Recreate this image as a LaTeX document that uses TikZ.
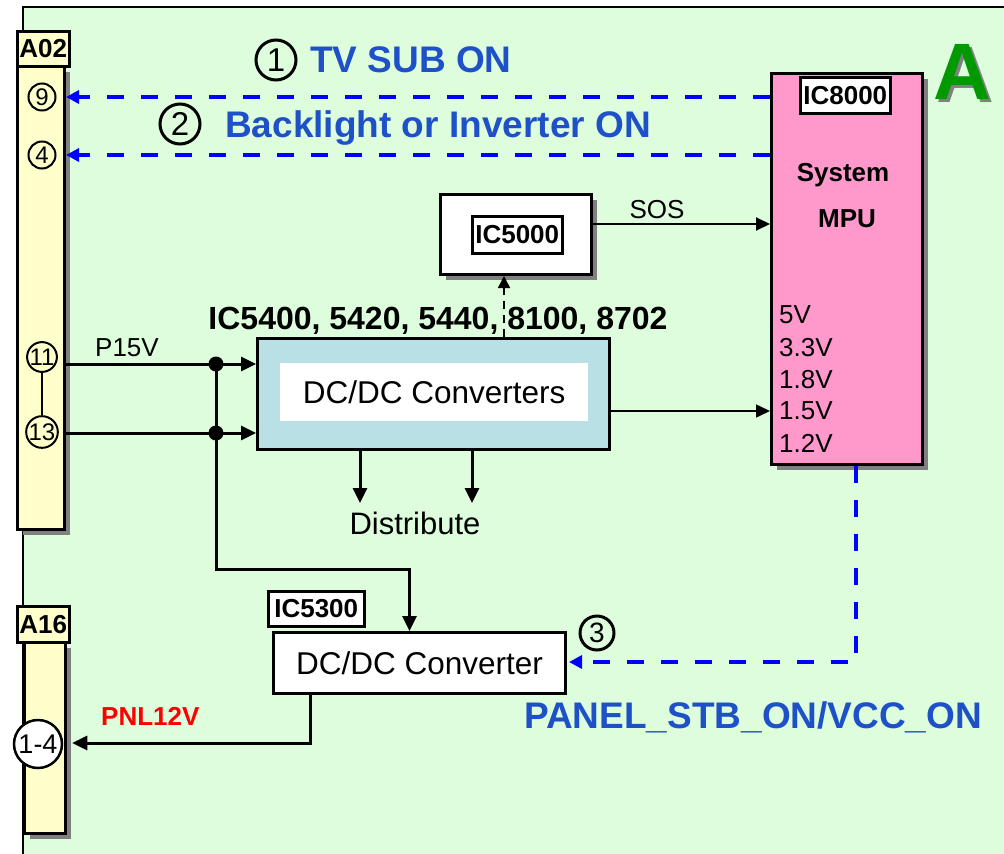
\documentclass[tikz,border=0pt]{standalone}
\usepackage{fontspec}
\setmainfont{Liberation Sans}
\usetikzlibrary{arrows.meta}
\definecolor{bggreen}{RGB}{221,253,221}
\definecolor{pinyellow}{RGB}{255,255,204}
\definecolor{mpupink}{RGB}{255,153,204}
\definecolor{dcblue}{RGB}{185,224,228}
\definecolor{textblue}{RGB}{30,80,200}
\definecolor{arrowblue}{RGB}{0,0,255}
\definecolor{bigAgreen}{RGB}{0,153,0}
\definecolor{shadowgray}{RGB}{128,128,128}
\newcommand{\fsz}[1]{\fontsize{#1}{#1}\selectfont}
\begin{document}
\begin{tikzpicture}[x=1pt,y=-1pt,
  shadowed/.style={preaction={fill=shadowgray, transform canvas={shift={(5pt,-5pt)}}}},
  blk/.style={draw=black, line width=3pt, inner sep=0pt, anchor=north west},
  lbl/.style={draw=black, line width=2.5pt, fill=white, inner sep=0pt, anchor=north west, font=\bfseries\fsz{26}},
  txt/.style={inner sep=0pt, text depth=0pt},
  pinc/.style={circle, draw=black, line width=2pt, inner sep=0pt, minimum size=27pt, font=\fsz{24}},
  numc/.style={circle, draw=black, line width=3pt, inner sep=0pt, minimum size=40pt, font=\fsz{33}},
  conn/.style={line width=3pt, -{Triangle[length=15pt,width=14pt]}},
  thinconn/.style={line width=2pt, -{Triangle[length=14pt,width=13pt]}},
  bluedash/.style={draw=arrowblue, line width=3.5pt, dash pattern=on 17pt off 17pt, -{Triangle[length=13pt,width=13pt]}}
]
\useasboundingbox (0,0) rectangle (1004,854);
\fill[white] (0,0) rectangle (1004,854);
\fill[bggreen] (23,7) rectangle (1004,854);
\draw[line width=2pt] (23,854) -- (23,7) -- (1004,7);

% connector A02
\node[blk, fill=pinyellow, shadowed, minimum width=47pt, minimum height=463pt] (a02bar) at (16,65) {};
\node[lbl, fill=pinyellow, minimum width=52pt, minimum height=35pt] (a02lbl) at (16,30) {A02};
\node[pinc] (p9) at (42,97) {9};
\node[pinc] (p4) at (42,155) {4};
\node[pinc, minimum size=28pt] (p11) at (42,357) {11};
\node[pinc, minimum size=28pt] (p13) at (42,432) {13};
\draw[line width=2pt] (p11.south) -- (p13.north);

% connector A16
\node[blk, fill=pinyellow, shadowed, minimum width=41pt, minimum height=191pt] (a16bar) at (23,641) {};
\node[lbl, fill=pinyellow, minimum width=52pt, minimum height=36pt] (a16lbl) at (16,605) {A16};
\node[pinc, fill=white, line width=2.5pt, minimum size=48pt, font=\fsz{27}] (p14) at (38,744) {1-4};

% IC8000
\node[blk, fill=mpupink, shadowed, minimum width=151pt, minimum height=391pt] (ic8000) at (770,72) {};
\node[lbl, minimum width=90pt, minimum height=36pt] (ic8000lbl) at (799,76) {IC8000};
\node[txt, font=\bfseries\fsz{26}] (sys) at (843,172) {System};
\node[txt, font=\bfseries\fsz{26}] (mpu) at (847,219) {MPU};
\node[txt, anchor=west, font=\fsz{26}] (v5) at (779,315) {5V};
\node[txt, anchor=west, font=\fsz{26}] (v33) at (779,347) {3.3V};
\node[txt, anchor=west, font=\fsz{26}] (v18) at (779,379) {1.8V};
\node[txt, anchor=west, font=\fsz{26}] (v15) at (779,411) {1.5V};
\node[txt, anchor=west, font=\fsz{26}] (v12) at (779,443) {1.2V};

% big A with shadow (one node)
\node[txt, font=\bfseries\fsz{80}] (bigA) at (962,72) {\rlap{\hspace{3pt}\raisebox{-3pt}{\textcolor{shadowgray}{A}}}\textcolor{bigAgreen}{A}};

% IC5000
\node[blk, fill=white, shadowed, minimum width=151pt, minimum height=80pt] (ic5000) at (439,193) {};
\node[lbl, minimum width=90pt, minimum height=37pt] (ic5000lbl) at (471,215) {IC5000};

% DC/DC converters
\node[blk, fill=dcblue, minimum width=352pt, minimum height=111pt] (dcs) at (256,337) {};
\node[fill=white, inner sep=0pt, minimum width=308pt, minimum height=58pt, anchor=north west, font=\fsz{31.5}] (dcsin) at (280,363) {DC/DC Converters};

% IC5300
\node[lbl, minimum width=96pt, minimum height=35pt] (ic5300lbl) at (267,590) {IC5300};
\node[blk, fill=white, minimum width=292pt, minimum height=61pt, font=\fsz{31.5}] (dc1) at (272,631) {DC/DC Converter};

% coordinates
\coordinate (j1) at (216,364);
\coordinate (j2) at (216,433);
\coordinate (bend) at (216,569);
\coordinate (ux) at (504,300);
\coordinate (sos) at (680,224);
\coordinate (d1) at (360,503);
\coordinate (d2) at (472,503);
\coordinate (b3) at (856,662);
\coordinate (pb) at (310,743);

% connectors
\draw[bluedash] (ic8000.west |- p9) -- (a02bar.east |- p9);
\draw[bluedash] (ic8000.west |- p4) -- (a02bar.east |- p4);
\draw[conn] (a02bar.east |- j1) -- (dcs.west |- j1);
\draw[conn] (a02bar.east |- j2) -- (dcs.west |- j2);
\fill (j1) circle (7.5pt);
\fill (j2) circle (7.5pt);
\draw[conn] (j1) -- (bend) -| ([xshift=-10pt]dc1.north);
\draw[conn] (dcs.south -| d1) -- (d1);
\draw[conn] (dcs.south -| d2) -- (d2);
\draw[line width=1.5pt, dash pattern=on 8pt off 6pt, -{Triangle[length=12pt,width=12pt]}] (dcs.north -| ux) -- (ic5000.south -| ux);
\draw[thinconn] (ic5000.east |- sos) -- (ic8000.west |- sos);
\draw[line width=1.5pt, -{Triangle[length=14pt,width=13pt]}] (dcs.east |- v15.west) -- (ic8000.west |- v15.west);
\draw[bluedash] (ic8000.south -| b3) -- (b3) -- ([xshift=2pt]dc1.east |- b3);
\draw[conn] (dc1.south -| pb) -- (pb) -- ([xshift=9pt]p14.east |- pb);

% texts
\node[numc] (n1) at (276,60) {1};
\node[txt, anchor=west, text=textblue, font=\bfseries\fsz{37}] (t1) at (310,60) {TV SUB ON};
\node[numc] (n2) at (180,124) {2};
\node[txt, anchor=west, text=textblue, font=\bfseries\fsz{37}] (t2) at (225,124) {Backlight or Inverter ON};
\node[numc, minimum size=34pt, font=\fsz{28}] (n3) at (597,633) {3};
\node[txt, anchor=west, text=textblue, font=\bfseries\fsz{37}] (t3) at (524,715) {PANEL\_STB\_ON/VCC\_ON};
\node[txt, anchor=west, text=red, font=\bfseries\fsz{26}] (pnl) at (101,716) {PNL12V};
\node[txt, anchor=west, font=\fsz{26}] (p15) at (95,348) {P15V};
\node[txt, font=\fsz{26}] (sostxt) at (657,209) {SOS};
\node[txt, font=\bfseries\fsz{32}] (iclist) at (438,318) {IC5400, 5420, 5440, 8100, 8702};
\node[txt, font=\fsz{31}] (dist) at (415,523) {Distribute};
\end{tikzpicture}
\end{document}
